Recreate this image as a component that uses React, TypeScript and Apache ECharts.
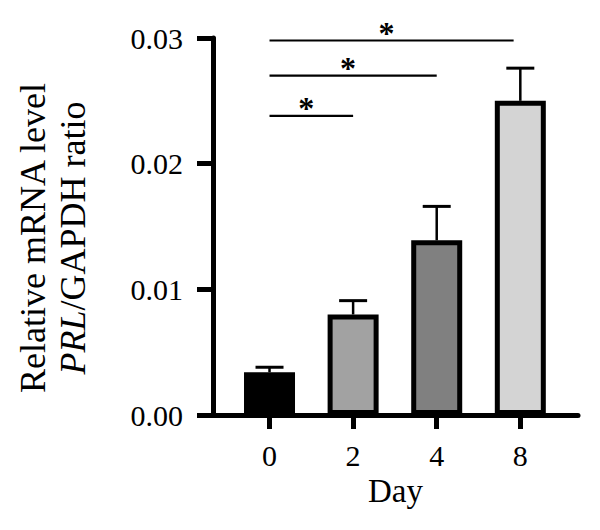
import React, { useEffect, useRef } from "react";
import * as echarts from "echarts";

// Day of culture, mean relative PRL expression and its error (SEM)
const CATEGORIES = ["0", "2", "4", "8"];
const MEANS = [0.0034, 0.008, 0.0139, 0.025];
const ERRORS = [0.0004, 0.0011, 0.0027, 0.0026];
const Y_TICK_LABELS = ["0.00", "0.01", "0.02", "0.03"];

// Significance brackets: span along the category positions and height in data units
const BRACKET_FROM = [0, 0, 0];
const BRACKET_TO = [1, 2, 2.92];
const BRACKET_LEVEL = [0.0238, 0.027, 0.0298];
const BRACKET_MARK = ["*", "*", "*"];

const BAR_FILLS = ["#000000", "#a2a2a2", "#808080", "#d4d4d4"];
const FONT = "'Liberation Serif', 'Times New Roman', serif";

export default function App() {
  const ref = useRef<HTMLDivElement>(null);

  useEffect(() => {
    if (!ref.current) return;
    const chart = echarts.init(ref.current, null, { renderer: "svg" });

    const option: any = {
      animation: false,
      backgroundColor: "#ffffff",
      grid: { left: 213, top: 38, width: 365, height: 377 },
      xAxis: {
        type: "value",
        min: -0.676,
        max: 3.69,
        splitLine: { show: false },
        axisLine: { show: true, onZero: false, lineStyle: { color: "#000", width: 5 } },
        axisTick: {
          show: true,
          customValues: [0, 1, 2, 3],
          length: 14,
          lineStyle: { color: "#000", width: 5 },
        },
        axisLabel: {
          customValues: [0, 1, 2, 3],
          formatter: (v: number) => CATEGORIES[Math.round(v)] ?? "",
          margin: 25,
          fontSize: 30,
          fontFamily: FONT,
          color: "#000",
        },
        name: "Day",
        nameLocation: "middle",
        nameGap: 57,
        nameTextStyle: { fontSize: 33, fontFamily: FONT, color: "#000" },
      },
      yAxis: {
        type: "value",
        min: 0,
        max: 0.03,
        interval: 0.01,
        splitLine: { show: false },
        axisLine: { show: true, onZero: false, lineStyle: { color: "#000", width: 5 } },
        axisTick: { show: true, length: 16, lineStyle: { color: "#000", width: 5 } },
        axisLabel: {
          formatter: (v: number) => Y_TICK_LABELS[Math.round(v / 0.01)] ?? "",
          margin: 30,
          fontSize: 30,
          fontFamily: FONT,
          color: "#000",
        },
      },
      graphic: [
        {
          type: "text",
          x: 53,
          y: 238,
          rotation: Math.PI / 2,
          style: {
            text: "Relative mRNA level\n{i|PRL}/GAPDH ratio",
            fontSize: 36,
            fontFamily: FONT,
            fill: "#000",
            align: "center",
            verticalAlign: "middle",
            lineHeight: 40,
            rich: {
              i: { fontStyle: "italic", fontSize: 36, fontFamily: FONT, lineHeight: 40 },
            },
          },
        },
      ],
      series: [
        {
          type: "bar",
          barWidth: 51,
          data: MEANS.map((m, i) => ({
            value: [i, m],
            itemStyle: { color: BAR_FILLS[i] },
          })),
          itemStyle: { borderColor: "#000", borderWidth: 5 },
          z: 2,
        },
        {
          // upper error whiskers
          type: "custom",
          z: 3,
          encode: { x: 0, y: 1 },
          data: MEANS.map((m, i) => [i, m, ERRORS[i]]),
          renderItem: (_params: any, api: any) => {
            const x = api.value(0);
            const m = api.value(1);
            const e = api.value(2);
            const base = api.coord([x, m]);
            const top = api.coord([x, m + e]);
            return {
              type: "group",
              children: [
                {
                  type: "line",
                  shape: { x1: base[0], y1: base[1], x2: top[0], y2: top[1] },
                  style: { stroke: "#000", lineWidth: 2.5 },
                },
                {
                  type: "line",
                  shape: { x1: top[0] - 14, y1: top[1], x2: top[0] + 14, y2: top[1] },
                  style: { stroke: "#000", lineWidth: 3 },
                },
              ],
            };
          },
        },
        {
          // significance brackets with their markers
          type: "custom",
          z: 3,
          clip: false,
          encode: { x: [0, 1], y: 2 },
          data: BRACKET_FROM.map((f, i) => [f, BRACKET_TO[i], BRACKET_LEVEL[i], i]),
          renderItem: (_params: any, api: any) => {
            const p0 = api.coord([api.value(0), api.value(2)]);
            const p1 = api.coord([api.value(1), api.value(2)]);
            const idx = api.value(3);
            const cx = (p0[0] + p1[0]) / 2 - 5;
            return {
              type: "group",
              children: [
                {
                  type: "line",
                  shape: { x1: p0[0], y1: p0[1], x2: p1[0], y2: p1[1] },
                  style: { stroke: "#000", lineWidth: 2.2 },
                },
                {
                  type: "text",
                  x: cx,
                  y: p0[1] - 8,
                  style: {
                    text: BRACKET_MARK[idx],
                    fontSize: 32,
                    fontWeight: "bold",
                    fontFamily: FONT,
                    fill: "#000",
                    align: "center",
                    verticalAlign: "middle",
                  },
                },
              ],
            };
          },
        },
      ],
    };

    chart.setOption(option);
    return () => chart.dispose();
  }, []);

  return (
    <div
      ref={ref}
      style={{ position: "absolute", left: 0, top: 0, width: 600, height: 530, background: "#fff" }}
    />
  );
}
